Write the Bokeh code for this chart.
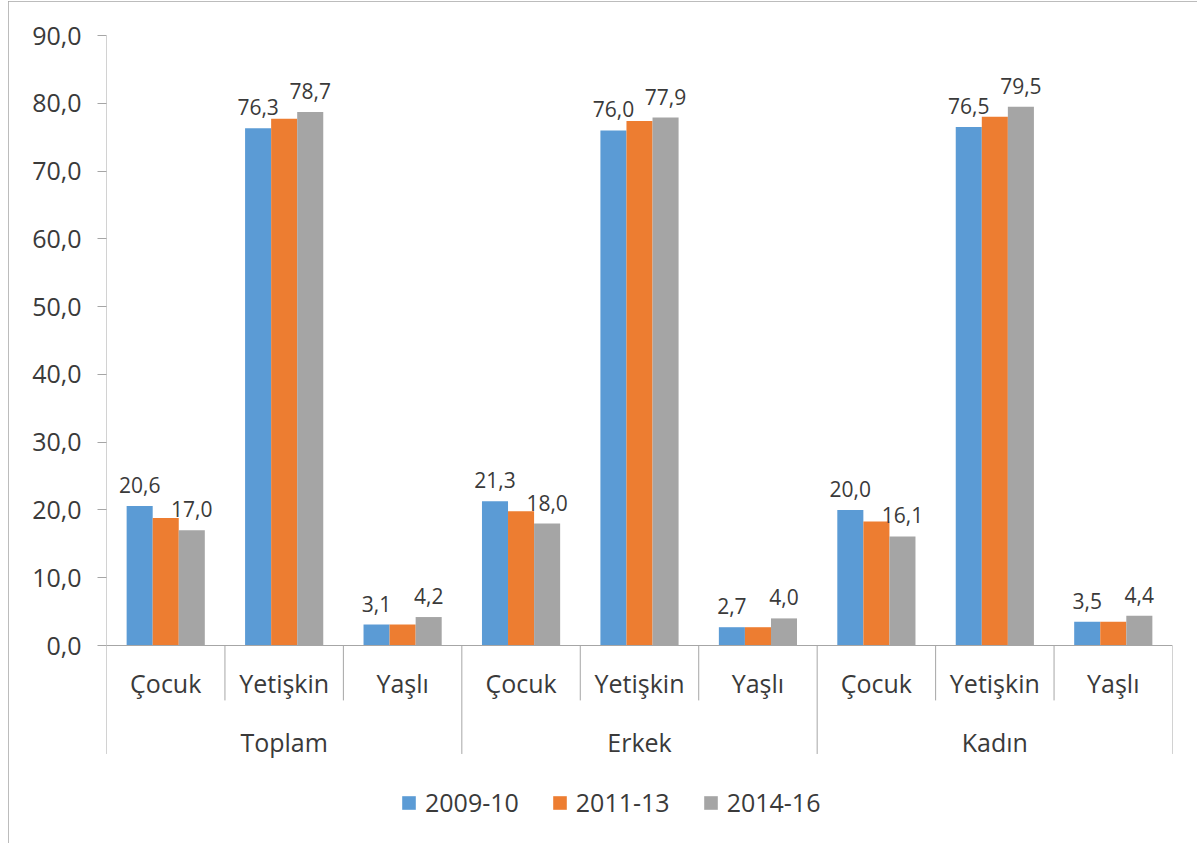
from bokeh.plotting import figure
from bokeh.models import FactorRange, ColumnDataSource, Range1d, FixedTicker, Legend, LegendItem
from bokeh.transform import dodge
from bokeh.core.properties import value
from bokeh.embed import file_html
from bokeh.resources import INLINE

# ---- data ----
groups = ["Toplam", "Erkek", "Kadın"]
ages = ["Çocuk", "Yetişkin", "Yaşlı"]
series = ["2009-10", "2011-13", "2014-16"]
v_2009_10 = [20.6, 76.3, 3.1, 21.3, 76.0, 2.7, 20.0, 76.5, 3.5]
v_2011_13 = [18.8, 77.7, 3.1, 19.8, 77.4, 2.7, 18.3, 78.0, 3.5]
v_2014_16 = [17.0, 78.7, 4.2, 18.0, 77.9, 4.0, 16.1, 79.5, 4.4]
labelled = [True, False, True]
y_ticks = [0, 10, 20, 30, 40, 50, 60, 70, 80, 90]
y_tick_labels = ["0,0", "10,0", "20,0", "30,0", "40,0", "50,0", "60,0", "70,0", "80,0", "90,0"]

# ---- style ----
colors = ["#5B9BD5", "#ED7D31", "#A5A5A5"]
axis_col = "#A6A6A6"
text_col = "#3a3a3a"
FONT = value("Open Sans")
bar_w = 0.22
offsets = [-bar_w, 0.0, bar_w]
Y_MIN = -27.44
SUB_SEP = -8.1
GRP_SEP = -16.0
SUB_LBL = -5.6
GRP_LBL = -14.3

factors = [(g, a) for g in groups for a in ages]

p = figure(
    x_range=FactorRange(*factors, group_padding=0, factor_padding=0, range_padding=0),
    y_range=Range1d(Y_MIN, 90),
    width=1189, height=842,
    output_backend="svg", toolbar_location=None,
    min_border_left=98, min_border_right=25, min_border_top=34, min_border_bottom=12,
)
p.styles = {"outline": "1px solid #A6A6A6", "outline-offset": "-1px",
            "margin-left": "8px", "margin-top": "1px"}
p.xaxis.visible = False
p.xgrid.visible = False
p.ygrid.visible = False
p.outline_line_color = None

ax = p.yaxis[0]
ax.ticker = FixedTicker(ticks=y_ticks)
ax.major_label_overrides = dict(zip(y_ticks, y_tick_labels))
ax.axis_line_color = None
ax.major_tick_line_color = axis_col
ax.major_tick_out = 9
ax.major_tick_in = 0
ax.minor_tick_line_color = None
ax.major_label_standoff = 16
ax.major_label_text_font = "Open Sans"
ax.major_label_text_font_size = "25px"
ax.major_label_text_color = text_col

all_vals = [v_2009_10, v_2011_13, v_2014_16]
renderers = []
for name, vals, col, off, lab in zip(series, all_vals, colors, offsets, labelled):
    src = ColumnDataSource(dict(
        x=factors, top=vals,
        label=[f"{v:.1f}".replace(".", ",") for v in vals],
    ))
    r = p.vbar(x=dodge("x", off, range=p.x_range), top="top", width=bar_w,
               source=src, fill_color=col, line_color=None)
    renderers.append(r)
    if lab:
        p.text(x=dodge("x", off, range=p.x_range), y="top", text="label", source=src,
               text_align="center", text_baseline="alphabetic", y_offset=-21,
               text_font=FONT, text_font_size="21px", text_color=text_col)

# axis lines
first, last = factors[0], factors[-1]
p.segment(x0=dodge("a", -0.5, range=p.x_range), x1=dodge("b", 0.5, range=p.x_range),
          y0=0, y1=0, source=ColumnDataSource(dict(a=[first], b=[last])),
          line_color=axis_col, line_width=1)
p.segment(x0=dodge("a", -0.5, range=p.x_range), x1=dodge("a", -0.5, range=p.x_range),
          y0=GRP_SEP, y1=90, source=ColumnDataSource(dict(a=[first])),
          line_color=axis_col, line_width=1)

# category separators
sub_edges = [(g, a) for g in groups for a in ages[1:]]
p.segment(x0=dodge("a", -0.5, range=p.x_range), x1=dodge("a", -0.5, range=p.x_range),
          y0=0, y1=SUB_SEP, source=ColumnDataSource(dict(a=sub_edges)),
          line_color=axis_col, line_width=1)
grp_left = [(g, ages[0]) for g in groups[1:]]
grp_right = [(groups[-1], ages[-1])]
p.segment(x0=dodge("a", -0.5, range=p.x_range), x1=dodge("a", -0.5, range=p.x_range),
          y0=0, y1=GRP_SEP, source=ColumnDataSource(dict(a=grp_left)),
          line_color=axis_col, line_width=1)
p.segment(x0=dodge("a", 0.5, range=p.x_range), x1=dodge("a", 0.5, range=p.x_range),
          y0=0, y1=GRP_SEP, source=ColumnDataSource(dict(a=grp_right)),
          line_color=axis_col, line_width=1)

# category labels
p.text(x="x", y=SUB_LBL, text="t",
       source=ColumnDataSource(dict(x=factors, t=[a for g, a in factors])),
       text_align="center", text_baseline="middle",
       text_font=FONT, text_font_size="25px", text_color=text_col)
p.text(x="x", y=GRP_LBL, text="t",
       source=ColumnDataSource(dict(x=[(g, ages[1]) for g in groups], t=groups)),
       text_align="center", text_baseline="middle",
       text_font=FONT, text_font_size="25px", text_color=text_col)

legend = Legend(
    items=[LegendItem(label=s, renderers=[r]) for s, r in zip(series, renderers)],
    orientation="horizontal", location=(294, 12),
    glyph_width=17, glyph_height=17, label_standoff=8, spacing=32,
    label_text_font="Open Sans", label_text_font_size="25px", label_text_color=text_col,
    border_line_color=None, background_fill_alpha=0, padding=0, margin=0,
)
p.add_layout(legend)

open("out.html", "w").write(file_html(p, INLINE))
